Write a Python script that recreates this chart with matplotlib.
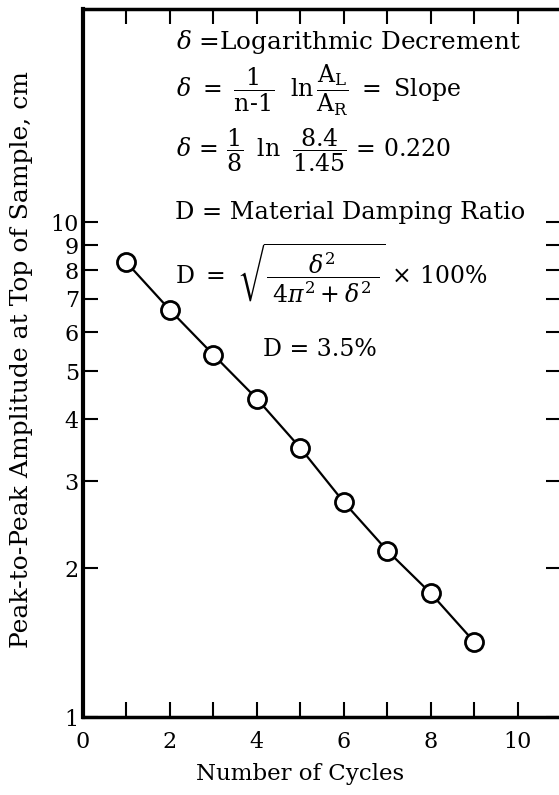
import numpy as np
import matplotlib
matplotlib.use("Agg")
import matplotlib.pyplot as plt
from matplotlib.ticker import FixedLocator, NullLocator, FixedFormatter

plt.rcParams['font.family'] = ['DejaVu Serif']
plt.rcParams['mathtext.fontset'] = 'dejavuserif'

# data
cycles = [1, 2, 3, 4, 5, 6, 7, 8, 9]
amplitude = [8.3, 6.65, 5.4, 4.4, 3.5, 2.72, 2.17, 1.78, 1.42]

xticks = [0, 1, 2, 3, 4, 5, 6, 7, 8, 9, 10]
xticklabels = ['0', '', '2', '', '4', '', '6', '', '8', '', '10']
yticks = [1, 2, 3, 4, 5, 6, 7, 8, 9, 10]
yticklabels = ['1', '2', '3', '4', '5', '6', '7', '8', '9', '10']

W, H = 559, 795
fig = plt.figure(figsize=(W/100, H/100), dpi=100)
ax = fig.add_axes([83/W, 78/H, 478/W, 708/H])

ax.plot(cycles, amplitude, '-o', color='black', lw=1.6, markersize=13,
        markerfacecolor='white', markeredgecolor='black', markeredgewidth=2)

ax.set_yscale('log')
ax.set_xlim(0, 11)
ax.set_ylim(1, 27)

ax.xaxis.set_major_locator(FixedLocator(xticks))
ax.xaxis.set_major_formatter(FixedFormatter(xticklabels))
ax.xaxis.set_minor_locator(NullLocator())
ax.yaxis.set_major_locator(FixedLocator(yticks))
ax.yaxis.set_major_formatter(FixedFormatter(yticklabels))
ax.yaxis.set_minor_locator(NullLocator())

ax.tick_params(axis='x', which='major', direction='in', top=True, length=11,
               width=1.5, labelsize=16, pad=10)
ax.tick_params(axis='y', which='major', direction='in', right=True, length=11,
               width=1.5, labelsize=16, pad=3)

ax.spines['left'].set_linewidth(3)
ax.spines['bottom'].set_linewidth(2.5)
ax.spines['top'].set_linewidth(2.5)
ax.spines['right'].set_linewidth(2.5)

ax.set_xlabel('Number of Cycles', fontsize=16.5)
ax.xaxis.set_label_coords(0.455, -0.065)
ax.set_ylabel('Peak-to-Peak Amplitude at Top of Sample, cm', fontsize=18)
ax.yaxis.set_label_coords(-0.105, 0.505)

def fx(px):
    return px / W

def fy(py):
    return 1 - py / H

fs = 17
fig.text(fx(176), fy(42), r'$\delta$ =Logarithmic Decrement', fontsize=17.8,
         ha='left', va='center')
fig.text(fx(176), fy(90),
         r'$\delta\ =\ \dfrac{1}{\mathrm{n\text{-}1}}\ \ \mathrm{ln}\,\dfrac{\mathrm{A_L}}{\mathrm{A_R}}\ =\ \mathrm{Slope}$',
         fontsize=fs, ha='left', va='center')
fig.text(fx(176), fy(150),
         r'$\delta\,=\,\dfrac{1}{8}\;\;\mathrm{ln}\;\;\dfrac{8.4}{1.45}\,=\,0.220$',
         fontsize=fs, ha='left', va='center')
fig.text(fx(175), fy(212), 'D = Material Damping Ratio', fontsize=17.4,
         ha='left', va='center')
fig.text(fx(175), fy(273),
         r'$\mathrm{D}\ =\ \sqrt{\dfrac{\;\delta^2\;}{\;4\pi^2 + \delta^2\;}}\,\times\,100\%$',
         fontsize=fs, ha='left', va='center')
fig.text(fx(263), fy(350), r'D = 3.5%', fontsize=fs, ha='left', va='center')

fig.savefig('out.png', dpi=100)
